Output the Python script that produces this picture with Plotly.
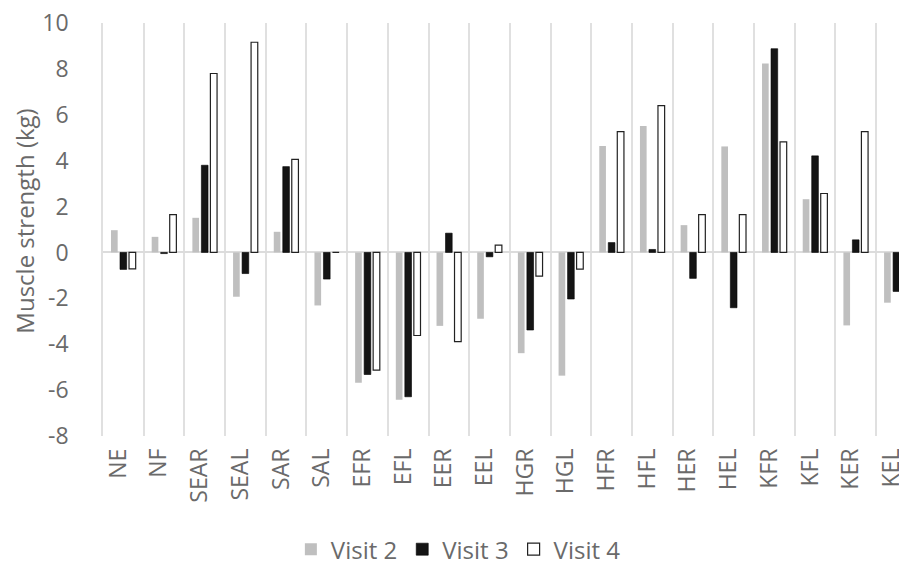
import plotly.graph_objects as go

categories = ["NE", "NF", "SEAR", "SEAL", "SAR", "SAL", "EFR", "EFL", "EER", "EEL",
              "HGR", "HGL", "HFR", "HFL", "HER", "HEL", "KFR", "KFL", "KER", "KEL"]

visit2 = [0.97, 0.68, 1.51, -1.93, 0.90, -2.31, -5.68, -6.42, -3.20, -2.89,
          -4.39, -5.37, 4.64, 5.51, 1.19, 4.62, 8.23, 2.32, -3.18, -2.19]
visit3 = [-0.74, -0.05, 3.80, -0.92, 3.74, -1.16, -5.32, -6.29, 0.84, -0.19,
          -3.38, -2.03, 0.43, 0.13, -1.13, -2.41, 8.88, 4.21, 0.55, -1.70]
visit4 = [-0.72, 1.65, 7.80, 9.16, 4.06, 0.0, -5.13, -3.62, -3.89, 0.32,
          -1.03, -0.73, 5.27, 6.40, 1.65, 1.65, 4.82, 2.57, 5.27, 1.96]

y_ticks = [-8, -6, -4, -2, 0, 2, 4, 6, 8, 10]
y_title = "Muscle strength (kg)"

FONT = "'Open Sans', Lato, sans-serif"
TXT = "#6a6a6a"
GRID = "#e0e0e0"

fig = go.Figure()
fig.add_trace(go.Bar(x=categories, y=visit2, name="Visit 2",
                     marker=dict(color="#bfbfbf", line=dict(width=0))))
fig.add_trace(go.Bar(x=categories, y=visit3, name="Visit 3",
                     marker=dict(color="#141414", line=dict(color="#000000", width=0.6))))
fig.add_trace(go.Bar(x=categories, y=visit4, name="Visit 4",
                     marker=dict(color="#ffffff", line=dict(color="#222222", width=1.2))))

# the page body adds an 8px offset, so the figure is 8px smaller and margins shifted
fig.update_layout(
    width=899, height=558,
    margin=dict(l=95, r=0, t=15, b=130, autoexpand=False),
    paper_bgcolor="white", plot_bgcolor="white",
    barmode="group", bargap=0.336, bargroupgap=0.26,
    font=dict(family=FONT, color=TXT),
    showlegend=True,
    legend=dict(orientation="h", x=0.442, xanchor="center", y=-0.275, yanchor="middle",
                font=dict(size=24, color=TXT, family=FONT), bgcolor="rgba(0,0,0,0)",
                itemclick=False, tracegroupgap=0),
    annotations=[dict(text=y_title, xref="paper", yref="paper", x=-0.097, y=0.519,
                      xanchor="center", yanchor="middle", textangle=-90, showarrow=False,
                      font=dict(size=24, color=TXT, family=FONT))],
)

fig.update_xaxes(
    type="category", range=[-0.5, 19.26], tickson="boundaries",
    showgrid=True, gridcolor=GRID, gridwidth=1.5,
    showline=False, ticks="", tickangle=-90, automargin=False,
    tickfont=dict(size=23, color=TXT, family=FONT), ticklabelstandoff=7,
    ticklabelshift=-5, ticklabeloverflow="allow", zeroline=False,
)
fig.update_yaxes(
    range=[-8, 10], tickvals=y_ticks, ticktext=[str(v) for v in y_ticks],
    showgrid=False, showline=True, linecolor=GRID, linewidth=1.5, ticks="",
    zeroline=True, zerolinecolor="#dcdcdc", zerolinewidth=2, automargin=False,
    tickfont=dict(size=23, color=TXT, family=FONT), ticklabelstandoff=28,
    ticklabeloverflow="allow",
)

fig.write_html("out.html", config={"displayModeBar": False})
